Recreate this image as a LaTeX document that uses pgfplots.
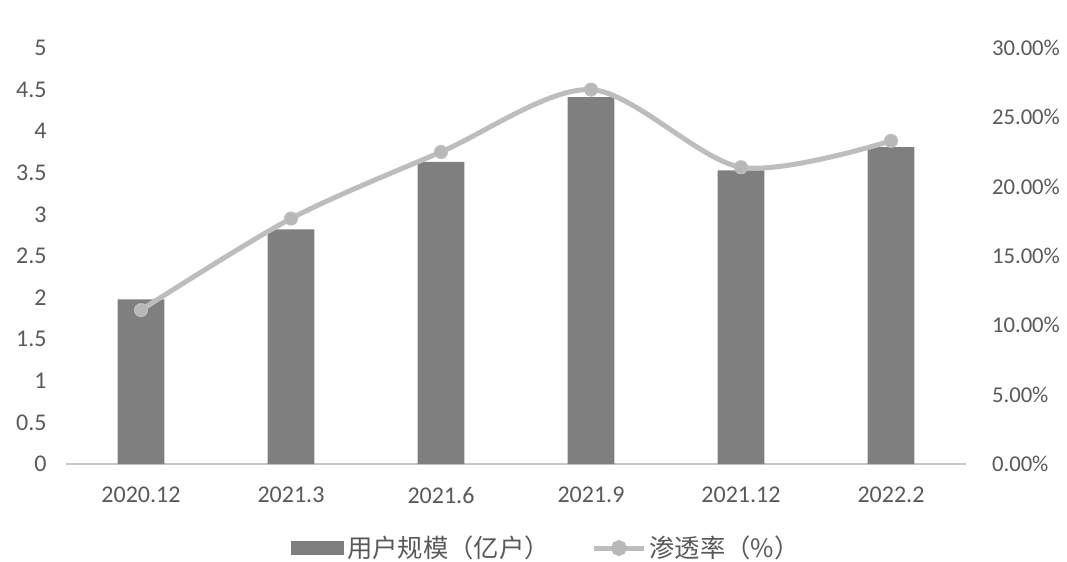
\documentclass[border=0pt]{standalone}
\usepackage{pgfplots}
\pgfplotsset{compat=1.18}
\usepackage{pgfplotstable}
\usepackage{fontspec}
\setmainfont{Carlito}
\newfontfamily\cjk{Noto Sans CJK SC}
\definecolor{barc}{HTML}{7F7F7F}
\definecolor{linec}{HTML}{BDBDBD}
\definecolor{markc}{HTML}{B8B8B8}
\definecolor{txt}{HTML}{595959}
\definecolor{axc}{HTML}{C8C8C8}

\pgfplotsset{
  linelegend/.style={legend image code/.code={%
    \draw[mark repeat=2, mark phase=2, ##1] plot coordinates {(0pt,0pt) (19pt,0pt) (38pt,0pt)};}},
}

% users in 100 million households, penetration rate in %
\pgfplotstableread{
x users rate
0 1.98 11.1
1 2.82 17.7
2 3.63 22.5
3 4.41 27.0
4 3.53 21.4
5 3.81 23.3
}\data

\begin{document}
\begin{tikzpicture}
\useasboundingbox (0,0) rectangle (800.25pt,420.75pt);
\begin{axis}[
  at={(49.5pt,72.75pt)}, anchor=south west,
  width=675pt, height=312pt, scale only axis,
  xmin=-0.5, xmax=5.5, ymin=0, ymax=5,
  axis x line*=bottom, axis y line*=left,
  x axis line style={axc, line width=1pt, -},
  y axis line style={draw=none},
  major tick length=0pt,
  xtick={0,1,2,3,4,5},
  xticklabels={2020.12,2021.3,2021.6,2021.9,2021.12,2022.2},
  ytick={0,0.5,1,1.5,2,2.5,3,3.5,4,4.5,5},
  yticklabels={0,0.5,1,1.5,2,2.5,3,3.5,4,4.5,5},
  ticklabel style={font=\fontsize{18}{18}\selectfont, text=txt},
  xticklabel style={yshift=-14pt},
  yticklabel style={xshift=-11pt},
  legend style={draw=none, fill=none, at={(0.534,-0.202)}, anchor=center,
    legend columns=2, font=\cjk\fontsize{19}{19}\selectfont, text=txt,
    /tikz/every even column/.append style={column sep=29pt}},
]
\addplot[ybar, bar width=0.313, fill=barc, draw=none,
  legend image code/.code={\fill[barc] (0pt,-5.5pt) rectangle (40pt,5.5pt);}]
  table[x=x, y=users]{\data};
\addlegendentry{用户规模（亿户）}
\addlegendimage{linec, line width=3.75pt, mark=*, mark size=4pt,
  mark options={fill=markc, draw=markc}, linelegend}
\addlegendentry{渗透率（\%）}
\end{axis}
\begin{axis}[
  at={(49.5pt,72.75pt)}, anchor=south west,
  width=675pt, height=312pt, scale only axis,
  xmin=-0.5, xmax=5.5, ymin=0, ymax=30,
  axis x line=none, axis y line*=right,
  y axis line style={draw=none},
  major tick length=0pt,
  ytick={0,5,10,15,20,25,30},
  yticklabels={0.00\%,5.00\%,10.00\%,15.00\%,20.00\%,25.00\%,30.00\%},
  ticklabel style={font=\fontsize{17}{17}\selectfont, text=txt},
  yticklabel style={xshift=16pt},
]
\addplot[smooth, linec, line width=3.75pt, mark=*, mark size=4.8pt,
  mark options={fill=markc, draw=linec, line width=1pt}]
  table[x=x, y=rate]{\data};
\end{axis}
\end{tikzpicture}
\end{document}
